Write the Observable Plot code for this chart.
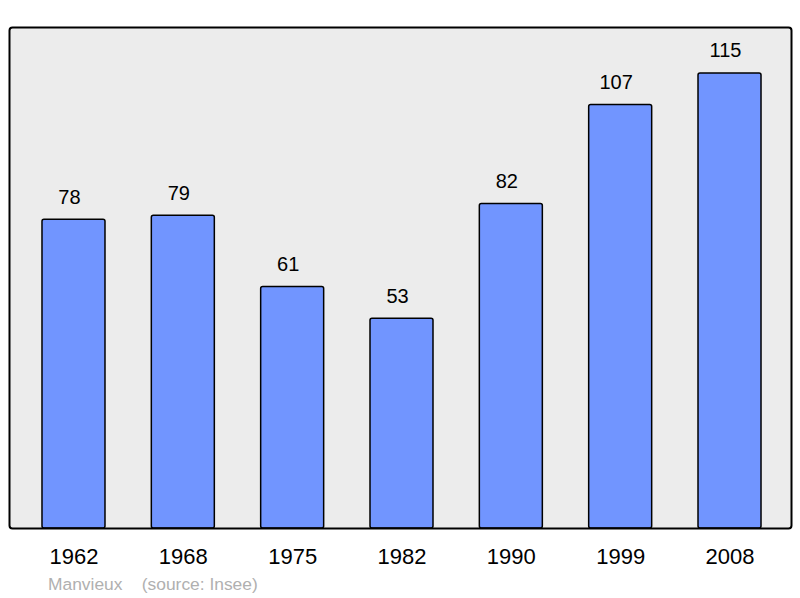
<!DOCTYPE html>
<html>
<head>
<meta charset="utf-8">
<script src="https://cdn.jsdelivr.net/npm/d3@7"></script>
<script src="https://cdn.jsdelivr.net/npm/@observablehq/plot@0.6"></script>
<style>
  body { margin: 0; background: #fff; font-family: "Liberation Sans", Arial, sans-serif; }
  #wrap { position: relative; width: 800px; height: 598px; }
  #caption { position: absolute; left: 48px; top: 574px; font-size: 17.4px; color: #b0b0b0; white-space: pre; line-height: 20px; }
</style>
</head>
<body>
<div id="wrap">
  <div id="chart"></div>
  <div id="caption">Manvieux    (source: Insee)</div>
</div>
<script>
const years = ["1962", "1968", "1975", "1982", "1990", "1999", "2008"];
const population = [78, 79, 61, 53, 82, 107, 115];

const data = years.map((y, i) => ({year: y, value: population[i]}));

const chart = Plot.plot({
  width: 800,
  height: 598,
  marginLeft: 9,
  marginRight: 9,
  marginTop: 27,
  marginBottom: 70,
  style: {fontFamily: "'Liberation Sans', Arial, sans-serif", background: "white"},
  x: {domain: years, range: [10.5, 792.5], paddingInner: 0.4238, paddingOuter: 0.288, round: false, axis: null},
  y: {domain: [0, 126.6], axis: null},
  marks: [
    Plot.frame({fill: "#ececec", stroke: "none", rx: 3}),
    Plot.barY(data, {x: "year", y: "value", fill: "#7195ff", stroke: "black", strokeWidth: 1.5, rx: 2}),
    Plot.text(data, {x: "year", y: "value", text: d => String(d.value), dy: -22.5, dx: -4.5, fontSize: 20, fill: "black"}),
    Plot.text(data, {x: "year", y: () => 0, text: "year", dy: 28, fontSize: 22, fill: "black"}),
    Plot.frame({fill: "none", stroke: "black", strokeWidth: 2, rx: 3})
  ]
});
document.getElementById("chart").appendChild(chart);
</script>
</body>
</html>
